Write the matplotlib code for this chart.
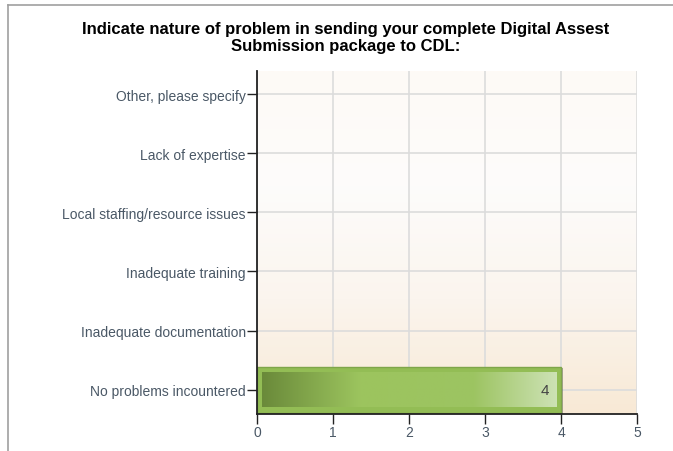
import matplotlib
matplotlib.use("Agg")
import matplotlib.pyplot as plt
import numpy as np
from matplotlib.colors import LinearSegmentedColormap

plt.rcParams['font.family'] = ['Liberation Sans', 'DejaVu Sans']

categories = ["No problems incountered", "Inadequate documentation",
              "Inadequate training", "Local staffing/resource issues",
              "Lack of expertise", "Other, please specify"]
values = [4, 0, 0, 0, 0, 0]
x_ticks = [0, 1, 2, 3, 4, 5]

title = "Indicate nature of problem in sending your complete Digital Assest\nSubmission package to CDL:"

fig = plt.figure(figsize=(6.73, 4.52), dpi=100)
ax = fig.add_axes([257 / 673, 1 - 415 / 452, 380 / 673, 343 / 452])

# figure frame (left and top grey lines)
fig.add_artist(plt.Line2D([8 / 673, 8 / 673], [0, 1 - 6 / 452], color="#a0a0a0", lw=1.2,
                          transform=fig.transFigure))
fig.add_artist(plt.Line2D([8 / 673, 1], [1 - 6 / 452, 1 - 6 / 452], color="#a0a0a0", lw=1.2,
                          transform=fig.transFigure))

ypos = np.arange(len(categories))
ax.set_xlim(0, 5)
ax.set_ylim(-0.41, len(categories) - 1 + 0.39)

# background gradient
bg = LinearSegmentedColormap.from_list("bg", ["#f8e9d5", "#fbf5ee", "#fdfcfb", "#fefaf6"])
ax.imshow(np.linspace(0, 1, 256).reshape(-1, 1), cmap=bg, aspect="auto",
          extent=[0, 5, -0.41, len(categories) - 1 + 0.39], origin="lower", zorder=0)

ax.set_xticks(x_ticks)
ax.set_yticks(ypos)
ax.set_yticklabels(categories)
ax.grid(True, color="#dcdcdc", lw=1.2, zorder=1)
ax.set_axisbelow(True)

bar_h = 0.77
bars = ax.barh(ypos, values, height=bar_h, color="none", edgecolor="none", zorder=2)
green = LinearSegmentedColormap.from_list(
    "g", [(0, "#6a8a3a"), (0.33, "#9cc45e"), (0.72, "#9dc462"), (1, "#cde2b4")])
for b, v in zip(bars, values):
    if v <= 0:
        continue
    x0, y0, w, h = b.get_x(), b.get_y(), b.get_width(), b.get_height()
    # shadow
    ax.add_patch(plt.Rectangle((x0 + 0.02, y0 - 0.025), w, h, facecolor="#555555",
                               alpha=0.5, zorder=2))
    ax.add_patch(plt.Rectangle((x0, y0), w, h, facecolor="#93bd55", edgecolor="#7fa64a",
                               lw=1, zorder=3))
    ax.imshow(np.linspace(0, 1, 256).reshape(1, -1), cmap=green, aspect="auto",
              extent=[x0 + 0.06, x0 + w - 0.06, y0 + 0.09, y0 + h - 0.09], zorder=4)
    ax.text(x0 + w - 0.15, y0 + h / 2, f"{v}", ha="right", va="center",
            fontsize=11, color="#444444", zorder=5)

ax.set_xlim(0, 5)
ax.set_ylim(-0.41, len(categories) - 1 + 0.39)

for s in ["top", "right"]:
    ax.spines[s].set_visible(False)
for s in ["left", "bottom"]:
    ax.spines[s].set_color("#222222")
    ax.spines[s].set_linewidth(1.3)
    ax.spines[s].set_zorder(6)
ax.tick_params(axis="both", colors="#222222", labelcolor="#4a5866", labelsize=10,
               length=7, width=1)
ax.tick_params(axis="y", pad=1)
ax.tick_params(axis="x", pad=1)

fig.text(346 / 673, 1 - 38 / 452, title, ha="center", va="center", fontsize=12,
         fontweight="bold", color="#000000", linespacing=1.12)

fig.savefig("out.png", dpi=100)
